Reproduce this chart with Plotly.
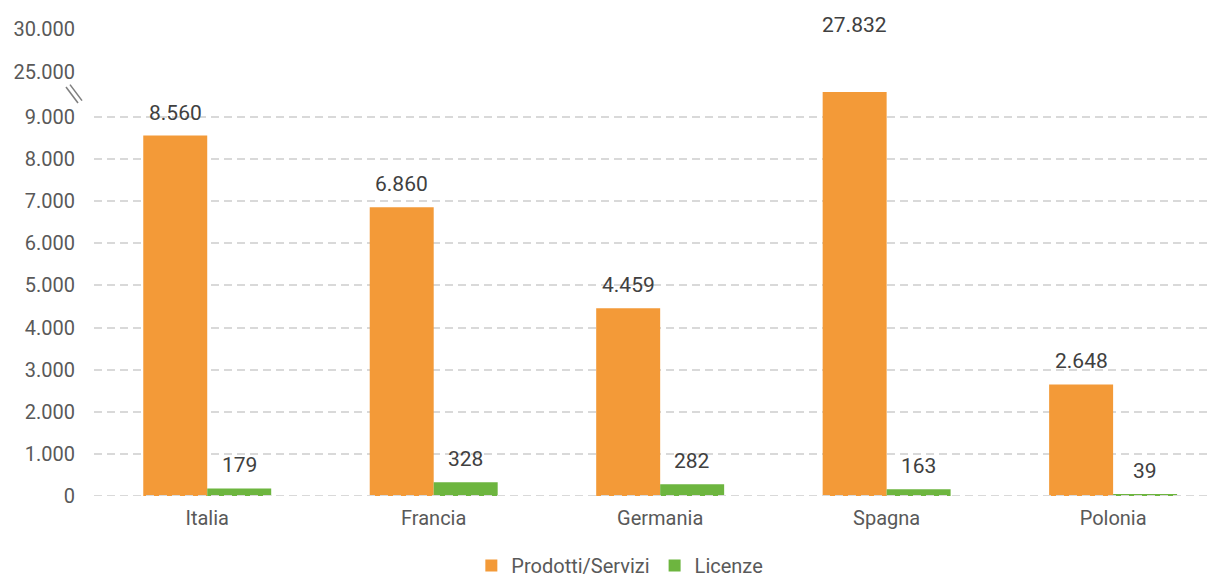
import plotly.graph_objects as go

paesi = ["Italia", "Francia", "Germania", "Spagna", "Polonia"]
prodotti_servizi = [8560, 6860, 4459, 27832, 2648]
licenze = [179, 328, 282, 163, 39]

# broken axis: lower part 0-9.000, upper part shows 25.000 / 30.000
tick_basso = [0, 1000, 2000, 3000, 4000, 5000, 6000, 7000, 8000, 9000]
tick_alto = [25000, 30000]
max_basso = 9594

ARANCIO = "#F39A38"
VERDE = "#6DB53F"
GRIGIO = "#595959"
TESTO = "#404040"


def fmt(v):
    return f"{v:,}".replace(",", ".")


fig = go.Figure()
fig.add_trace(go.Bar(x=paesi, y=prodotti_servizi, name="Prodotti/Servizi",
                     marker=dict(color=ARANCIO, line=dict(width=0)), cliponaxis=True))
fig.add_trace(go.Bar(x=paesi, y=licenze, name="Licenze",
                     marker=dict(color=VERDE, line=dict(width=0))))

# data labels above the bars; bars cut by the axis break get the label on the upper scale
for serie, shift in ((prodotti_servizi, -32), (licenze, 32)):
    for p, v in zip(paesi, serie):
        fig.add_annotation(x=p, y=v, xref="x", yref="y2" if v > max_basso else "y",
                           text=fmt(v), showarrow=False, xshift=shift, yshift=23,
                           yanchor="middle", font=dict(color=TESTO, size=21))

# dashed zero line drawn over the bars
fig.add_shape(type="line", xref="paper", yref="y", x0=0, x1=1, y0=0, y1=0,
              line=dict(color="#D9D9D9", width=2, dash="8px,5px"), layer="above")

# break marks on the y axis
for dx in (0, 4):
    fig.add_shape(type="line", xref="paper", yref="paper",
                  x0=(66 + dx - 94) / 1126, y0=(496 - 87 + dx * 0.6) / 482,
                  x1=(78 + dx - 94) / 1126, y1=(496 - 103 + dx * 0.6) / 482,
                  line=dict(color="#7F7F7F", width=1.5))

# page body adds 8px margin, so the figure is 8px smaller each way
fig.update_layout(
    width=1212, height=572,
    margin=dict(l=86, r=0, t=6, b=84, autoexpand=False),
    paper_bgcolor="white", plot_bgcolor="white",
    font=dict(family="Roboto", color=GRIGIO, size=21),
    separators=",.",
    barmode="group", bargap=0.435, bargroupgap=0,
    showlegend=True,
    legend=dict(orientation="h", x=0.467, xanchor="center", y=-0.144, yanchor="middle",
                font=dict(size=20, color=GRIGIO), itemwidth=30, tracegroupgap=0),
    xaxis=dict(range=[-0.5, 4.472], showgrid=False, zeroline=False, showline=False,
               ticks="", ticklabelstandoff=8, automargin=False,
               tickfont=dict(size=20, color=GRIGIO)),
    yaxis=dict(domain=[0, 404 / 482], range=[0, max_basso], tickvals=tick_basso,
               ticktext=[fmt(t) for t in tick_basso],
               showgrid=True, gridcolor="#D9D9D9", gridwidth=2, griddash="8px,5px",
               zeroline=False, showline=False, ticks="", ticklabelstandoff=18,
               automargin=False, tickfont=dict(size=20, color=GRIGIO)),
    yaxis2=dict(domain=[(496 - 84) / 482, 1.0], range=[23605, 31744], anchor="x",
                tickvals=tick_alto, ticktext=[fmt(t) for t in tick_alto],
                showgrid=False, zeroline=False, showline=False, ticks="",
                ticklabelstandoff=18, automargin=False,
                tickfont=dict(size=20, color=GRIGIO)),
)

fig.write_html("out.html")
